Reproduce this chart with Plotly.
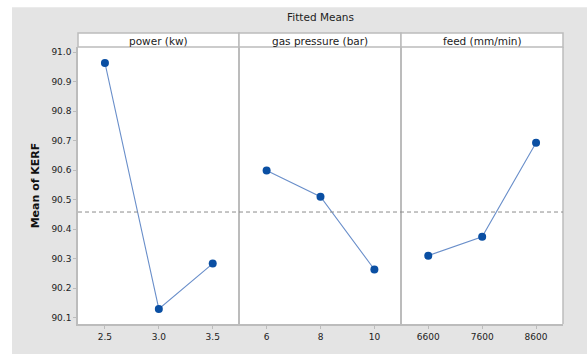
import plotly.graph_objects as go
from plotly.subplots import make_subplots

# Data
panels = ["power (kw)", "gas pressure (bar)", "feed (mm/min)"]
power_levels = ["2.5", "3.0", "3.5"]
power_means = [90.964, 90.129, 90.283]
gas_levels = ["6", "8", "10"]
gas_means = [90.599, 90.510, 90.263]
feed_levels = ["6600", "7600", "8600"]
feed_means = [90.310, 90.374, 90.693]
grand_mean = 90.458
y_ticks = [90.1, 90.2, 90.3, 90.4, 90.5, 90.6, 90.7, 90.8, 90.9, 91.0]

W, H = 587, 354
L, R, T, B = 78, 24, 47, 28
pw, ph = W - L - R, H - T - B

def px(x):
    return (x - L) / pw

def py(y):
    return (H - B - y) / ph

FONT = "DejaVu Sans"
GRAY = "#e4e4e4"
FRAME = "#bcbcbc"
MARK = "#0a4fa3"
LINE = "#6a8fca"

fig = make_subplots(rows=1, cols=3, shared_yaxes=True, horizontal_spacing=0)

for i, (lv, mv) in enumerate([(power_levels, power_means), (gas_levels, gas_means), (feed_levels, feed_means)]):
    fig.add_trace(go.Scatter(x=lv, y=mv, mode="lines+markers",
                             line=dict(color=LINE, width=1.1),
                             marker=dict(color=MARK, size=8),
                             showlegend=False, hoverinfo="skip"), row=1, col=i + 1)
    fig.update_xaxes(type="category", range=[-0.5, 2.5], showline=True, mirror=False,
                     linecolor=FRAME, linewidth=1.5, ticks="outside", ticklen=3,
                     tickcolor=FRAME, showgrid=False, zeroline=False,
                     tickfont=dict(family=FONT, size=9, color="#222"),
                     row=1, col=i + 1)

fig.update_yaxes(range=[90.078, 91.018], tickvals=y_ticks, tickformat=".1f",
                 showline=False, ticks="", showgrid=False, zeroline=False)
fig.update_yaxes(showline=True, linecolor=FRAME, linewidth=1.5,
                 ticks="outside", ticklen=3, tickcolor=FRAME,
                 tickfont=dict(family=FONT, size=9, color="#222"),
                 title=dict(text="<b>Mean of KERF</b>", font=dict(family=FONT, size=11, color="#111"),
                            standoff=10), row=1, col=1)

shapes = []
# gray background panel
shapes.append(dict(type="rect", xref="paper", yref="paper", x0=px(12), x1=px(W + 5),
                   y0=py(7), y1=py(H + 5), fillcolor=GRAY, line=dict(width=0), layer="below"))
# plot area white
shapes.append(dict(type="rect", xref="paper", yref="paper", x0=0, x1=1, y0=0, y1=1,
                   fillcolor="white", line=dict(width=0), layer="below"))
# panel dividers and right border
bounds = [78, 239, 401, 563]
for b in bounds[1:]:
    shapes.append(dict(type="line", xref="paper", yref="paper", x0=px(b), x1=px(b), y0=0, y1=1,
                       line=dict(color=FRAME, width=2 if b != bounds[-1] else 1.5)))
# strip header boxes
for i in range(3):
    shapes.append(dict(type="rect", xref="paper", yref="paper", x0=px(bounds[i]), x1=px(bounds[i + 1]),
                       y0=py(47), y1=py(33), fillcolor="white", line=dict(color=FRAME, width=1.5)))
# grand mean dashed line
shapes.append(dict(type="line", xref="paper", yref="y", x0=0, x1=1, y0=grand_mean, y1=grand_mean,
                   line=dict(color="#8c8c8c", width=1, dash="4px,3px")))

annotations = []
for i, name in enumerate(panels):
    annotations.append(dict(text=name, xref="paper", yref="paper",
                            x=px((bounds[i] + bounds[i + 1]) / 2), y=py(40.5),
                            showarrow=False, xanchor="center", yanchor="middle",
                            font=dict(family=FONT, size=10.5, color="#222")))
annotations.append(dict(text="Fitted Means", xref="paper", yref="paper", x=px(320), y=py(17),
                        showarrow=False, xanchor="center", yanchor="middle",
                        font=dict(family=FONT, size=10.5, color="#222")))

fig.update_layout(width=W, height=H, margin=dict(l=L, r=R, t=T, b=B),
                  paper_bgcolor="white", plot_bgcolor="rgba(0,0,0,0)",
                  shapes=shapes, annotations=annotations,
                  font=dict(family=FONT))

fig.write_html("out.html", config={"displayModeBar": False},
               post_script="document.body.style.margin='0';")
